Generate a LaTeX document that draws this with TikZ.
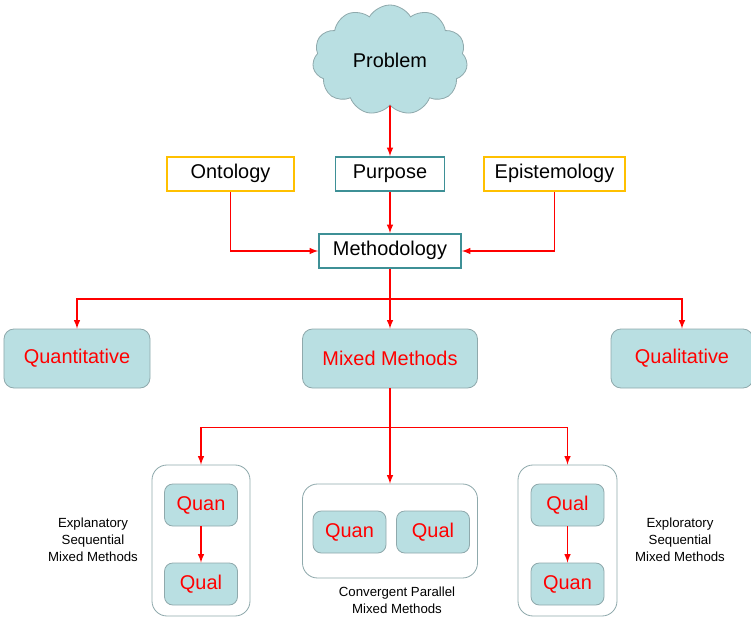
\documentclass[tikz,border=0pt]{standalone}
\usepackage{fontspec}
\setmainfont{Liberation Sans}
\usetikzlibrary{arrows, positioning, shapes.symbols, calc}

\definecolor{boxfill}{HTML}{B9DFE2}
\definecolor{boxedge}{HTML}{8FA9AC}
\definecolor{tealedge}{HTML}{3E9096}
\definecolor{goldedge}{HTML}{FFC000}

\begin{document}
\begin{tikzpicture}[x=0.03cm, y=-0.03cm]
		\tikzstyle{concept} = [rectangle, draw=goldedge, line width=1.5pt, minimum height=1.02cm, inner sep=0, text height=1.6ex, text depth=0.2ex, align=center, font=\fontsize{17}{20}\selectfont]
		\tikzstyle{core} = [concept, draw=tealedge]
		\tikzstyle{approach} = [rectangle, rounded corners=0.3cm, draw=boxedge, fill=boxfill, line width=0.7pt, minimum height=1.77cm, inner sep=0, text=red, font=\fontsize{17}{20}\selectfont]
		\tikzstyle{strand} = [approach, rounded corners=0.25cm, minimum width=2.19cm, minimum height=1.26cm]
		\tikzstyle{design} = [rectangle, rounded corners=0.45cm, draw=boxedge, fill=white, line width=0.7pt, inner sep=0]
		\tikzstyle{caption} = [align=center, inner sep=0, font=\fontsize{11.3}{14.5}\selectfont]

		\tikzstyle{directed_line} = [-latex, line width=1.5pt, red]
		\tikzstyle{plain_line} = [line width=1.5pt, red]

		\useasboundingbox (0,0) rectangle (751,617);

		% Problem and philosophy
		\node[cloud, cloud puffs=11, cloud puff arc=120, aspect=1.45, draw=boxedge, fill=boxfill, line width=0.7pt, minimum width=4.65cm, minimum height=3.3cm, inner sep=0, font=\fontsize{17}{20}\selectfont](problem) at (390,60) {Problem};

		\node[core, minimum width=3.27cm](purpose) at (390,174) {Purpose};
		\node[concept, minimum width=3.81cm](ontology) at (230.5,174) {Ontology};
		\node[concept, minimum width=4.23cm](epistemology) at (554.5,174) {Epistemology};
		\node[core, minimum width=4.26cm](methodology) at (390,251) {Methodology};

		\draw[directed_line] (problem.south) -- (purpose.north);
		\draw[directed_line] (purpose.south) -- (methodology.north);
		\draw[directed_line] (ontology.south) |- (methodology.west);
		\draw[directed_line] (epistemology.south) |- (methodology.east);

		% Approaches
		\node[approach, minimum width=4.38cm](quantitative) at (77,358.5) {Quantitative};
		\node[approach, minimum width=5.25cm](mixed) at (390,358.5) {Mixed Methods};
		\node[approach, minimum width=4.26cm](qualitative) at (682,358.5) {Qualitative};

		\coordinate (split_top) at ($(methodology.south)+(0,30)$);
		\draw[plain_line] (methodology.south) -- (split_top);
		\draw[directed_line] (split_top) -| (quantitative.north);
		\draw[directed_line] (split_top) -- (mixed.north);
		\draw[directed_line] (split_top) -| (qualitative.north);

		% Mixed methods designs
		\node[design, minimum width=2.94cm, minimum height=4.53cm](explanatory) at (201,540.5) {};
		\node[design, minimum width=5.25cm, minimum height=2.82cm](convergent) at (390,531) {};
		\node[design, minimum width=2.97cm, minimum height=4.53cm](exploratory) at (567.5,540.5) {};

		\node[strand](expl_quan) at (201,505) {Quan};
		\node[strand](expl_qual) at (201,584) {Qual};
		\node[strand](conv_quan) at (349.5,532) {Quan};
		\node[strand](conv_qual) at (433,532) {Qual};
		\node[strand](expo_qual) at (567.5,505) {Qual};
		\node[strand](expo_quan) at (567.5,584) {Quan};

		\draw[directed_line] (expl_quan.south) -- (expl_qual.north);
		\draw[directed_line] (expo_qual.south) -- (expo_quan.north);

		\coordinate (split_low) at ($(mixed.south)+(0,39)$);
		\draw[plain_line] (mixed.south) -- (split_low);
		\draw[directed_line] (split_low) -| (explanatory.north);
		\draw[directed_line] (split_low) -- (convergent.north);
		\draw[directed_line] (split_low) -| (exploratory.north);

		\node[caption](expl_label) at (93,540) {Explanatory\\Sequential\\Mixed Methods};
		\node[caption](conv_label) at (397,600) {Convergent Parallel\\Mixed Methods};
		\node[caption](expo_label) at (680,540) {Exploratory\\Sequential\\Mixed Methods};

	\end{tikzpicture}
\end{document}
